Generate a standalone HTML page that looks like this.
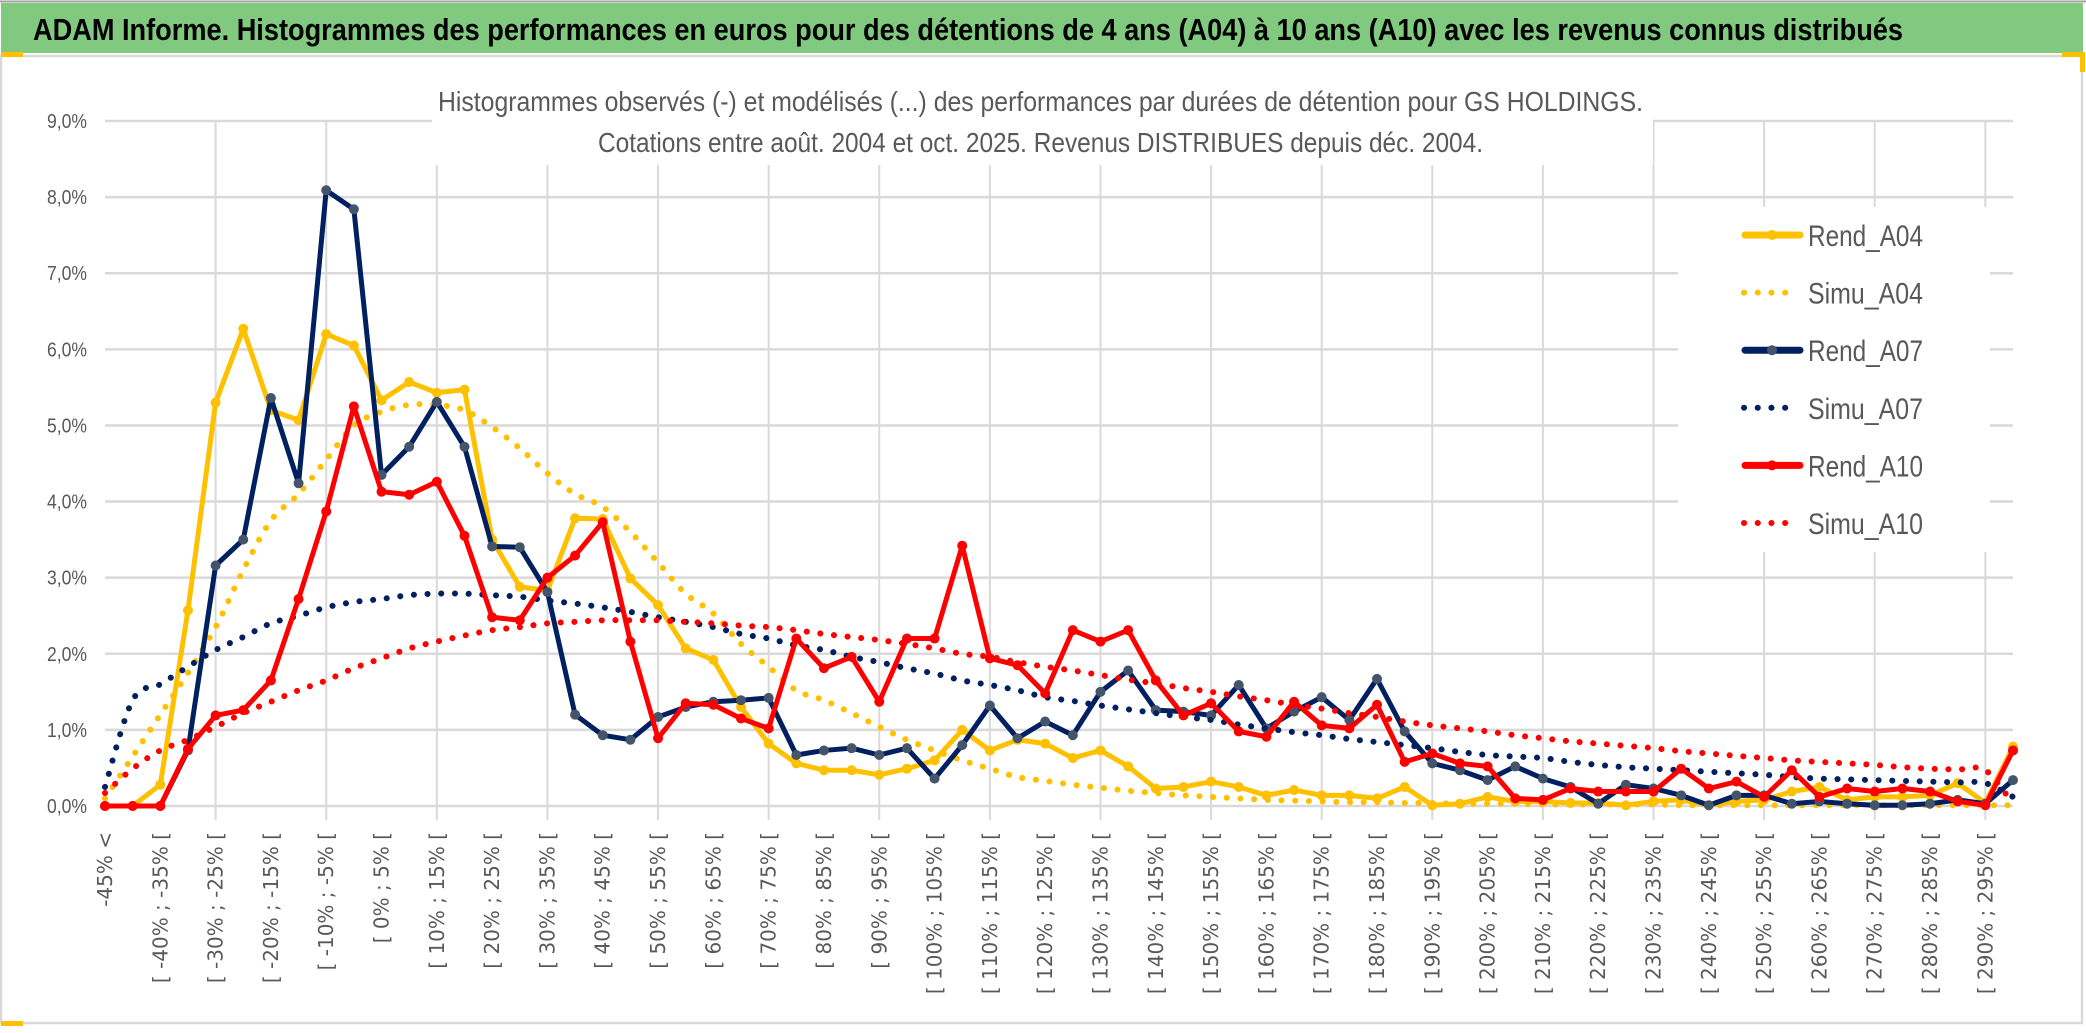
<!DOCTYPE html>
<html><head><meta charset="utf-8"><style>
html,body{margin:0;padding:0;background:#fff;}
svg{display:block;}
</style></head><body>
<svg id="chart" xmlns="http://www.w3.org/2000/svg" width="2086" height="1033" viewBox="0 0 2086 1033">
<rect x="0" y="0" width="2086" height="1033" fill="#fff"/>
<rect x="1" y="3" width="2082" height="50" fill="#80c97f"/>
<line x1="0" y1="1.5" x2="2086" y2="1.5" stroke="#a0a0a0" stroke-width="2"/>
<text x="33" y="40" font-family="Liberation Sans, sans-serif" font-weight="bold" font-size="31" fill="#000" textLength="1870" lengthAdjust="spacingAndGlyphs">ADAM Informe. Histogrammes des performances en euros pour des détentions de 4 ans (A04) à 10 ans (A10) avec les revenus connus distribués</text>
<rect x="1" y="56" width="2081" height="967" fill="none" stroke="#d9d9d9" stroke-width="2.5"/>
<rect x="1" y="52" width="22" height="5" fill="#ffc000"/>
<rect x="2062" y="52" width="22" height="5" fill="#ffc000"/>
<rect x="2080" y="52" width="5" height="20" fill="#ffc000"/>
<rect x="1" y="1021" width="22" height="5" fill="#ffc000"/>
<g id="grid"></g>
<g id="masks"></g>
<g id="xlabels"></g>
<g id="ylabels"></g>
<g id="series"></g>
<g id="titles"></g>
<g id="legend"></g>
</svg>
<script>
const categories = ["-45% <","[ -45% ; -40% [","[ -40% ; -35% [","[ -35% ; -30% [","[ -30% ; -25% [","[ -25% ; -20% [","[ -20% ; -15% [","[ -15% ; -10% [","[ -10% ; -5% [","[ -5% ; 0% [","[ 0% ; 5% [","[ 5% ; 10% [","[ 10% ; 15% [","[ 15% ; 20% [","[ 20% ; 25% [","[ 25% ; 30% [","[ 30% ; 35% [","[ 35% ; 40% [","[ 40% ; 45% [","[ 45% ; 50% [","[ 50% ; 55% [","[ 55% ; 60% [","[ 60% ; 65% [","[ 65% ; 70% [","[ 70% ; 75% [","[ 75% ; 80% [","[ 80% ; 85% [","[ 85% ; 90% [","[ 90% ; 95% [","[ 95% ; 100% [","[ 100% ; 105% [","[ 105% ; 110% [","[ 110% ; 115% [","[ 115% ; 120% [","[ 120% ; 125% [","[ 125% ; 130% [","[ 130% ; 135% [","[ 135% ; 140% [","[ 140% ; 145% [","[ 145% ; 150% [","[ 150% ; 155% [","[ 155% ; 160% [","[ 160% ; 165% [","[ 165% ; 170% [","[ 170% ; 175% [","[ 175% ; 180% [","[ 180% ; 185% [","[ 185% ; 190% [","[ 190% ; 195% [","[ 195% ; 200% [","[ 200% ; 205% [","[ 205% ; 210% [","[ 210% ; 215% [","[ 215% ; 220% [","[ 220% ; 225% [","[ 225% ; 230% [","[ 230% ; 235% [","[ 235% ; 240% [","[ 240% ; 245% [","[ 245% ; 250% [","[ 250% ; 255% [","[ 255% ; 260% [","[ 260% ; 265% [","[ 265% ; 270% [","[ 270% ; 275% [","[ 275% ; 280% [","[ 280% ; 285% [","[ 285% ; 290% [","[ 290% ; 295% [","[ 295% ; 300% ["];
const yTicks = [0,1,2,3,4,5,6,7,8,9];
const yTickLabels = ["0,0%","1,0%","2,0%","3,0%","4,0%","5,0%","6,0%","7,0%","8,0%","9,0%"];
const rendA04 = [0,0,0.28,2.57,5.3,6.27,5.2,5.07,6.2,6.05,5.33,5.57,5.43,5.47,3.5,2.88,2.83,3.78,3.77,2.99,2.64,2.07,1.92,1.3,0.82,0.56,0.47,0.47,0.41,0.49,0.6,1.0,0.73,0.87,0.82,0.63,0.73,0.52,0.23,0.25,0.32,0.25,0.14,0.21,0.14,0.14,0.1,0.25,0.01,0.03,0.12,0.06,0.06,0.04,0.04,0.01,0.06,0.08,0.01,0.06,0.08,0.19,0.25,0.08,0.12,0.12,0.14,0.3,0.04,0.78];
const simuA04 = [0.1,0.65,1.2,1.75,2.35,3.1,3.75,4.1,4.55,5.0,5.18,5.27,5.27,5.2,4.98,4.7,4.37,4.1,3.93,3.6,3.2,2.79,2.53,2.13,1.83,1.52,1.39,1.22,1.04,0.87,0.73,0.6,0.49,0.38,0.33,0.28,0.24,0.2,0.17,0.14,0.12,0.1,0.08,0.07,0.06,0.05,0.05,0.04,0.04,0.03,0.03,0.03,0.02,0.02,0.02,0.02,0.02,0.01,0.01,0.01,0.01,0.01,0.01,0.01,0.01,0.01,0.01,0.01,0.01,0.01];
const rendA07 = [0,0,0,0.73,3.16,3.5,5.36,4.24,8.09,7.84,4.35,4.72,5.31,4.72,3.41,3.4,2.81,1.2,0.93,0.87,1.17,1.3,1.37,1.39,1.42,0.67,0.73,0.76,0.67,0.76,0.36,0.8,1.32,0.89,1.11,0.93,1.5,1.78,1.26,1.24,1.19,1.59,1.02,1.24,1.43,1.13,1.67,0.98,0.56,0.47,0.34,0.52,0.36,0.25,0.03,0.28,0.23,0.14,0.01,0.14,0.14,0.03,0.06,0.03,0.01,0.01,0.03,0.08,0.03,0.34];
const simuA07 = [0.25,1.39,1.6,1.83,2.05,2.22,2.4,2.5,2.61,2.68,2.72,2.77,2.79,2.79,2.77,2.75,2.7,2.66,2.61,2.55,2.48,2.42,2.35,2.26,2.2,2.11,2.05,1.96,1.89,1.81,1.74,1.65,1.59,1.52,1.43,1.38,1.32,1.27,1.22,1.17,1.13,1.07,1.02,0.97,0.93,0.88,0.84,0.8,0.76,0.71,0.67,0.65,0.63,0.58,0.54,0.51,0.49,0.47,0.45,0.43,0.41,0.38,0.36,0.35,0.34,0.33,0.32,0.31,0.3,0.12];
const rendA10 = [0,0,0,0.75,1.19,1.26,1.65,2.72,3.87,5.25,4.13,4.09,4.26,3.55,2.48,2.44,3.0,3.29,3.73,2.16,0.89,1.35,1.33,1.15,1.02,2.2,1.81,1.96,1.37,2.2,2.2,3.42,1.94,1.85,1.48,2.31,2.16,2.31,1.65,1.19,1.35,0.98,0.91,1.37,1.06,1.02,1.33,0.58,0.69,0.56,0.52,0.1,0.08,0.23,0.19,0.19,0.19,0.49,0.23,0.32,0.12,0.47,0.12,0.23,0.19,0.23,0.19,0.06,0.01,0.73];
const simuA10 = [0.17,0.49,0.73,0.87,1.04,1.22,1.37,1.52,1.65,1.81,1.94,2.07,2.16,2.24,2.31,2.35,2.4,2.42,2.44,2.44,2.44,2.42,2.4,2.37,2.35,2.31,2.26,2.22,2.18,2.13,2.07,2.0,1.96,1.89,1.83,1.78,1.72,1.66,1.61,1.55,1.5,1.44,1.39,1.33,1.28,1.22,1.17,1.11,1.06,1.02,0.98,0.93,0.89,0.85,0.82,0.79,0.76,0.72,0.69,0.66,0.63,0.6,0.58,0.56,0.54,0.51,0.49,0.48,0.47,0.03];
const seriesNames = ["Rend_A04","Simu_A04","Rend_A07","Simu_A07","Rend_A10","Simu_A10"];

const NS = "http://www.w3.org/2000/svg";
const X0 = 105, X1 = 2013, Y0 = 806, YTOP = 121;
function xScale(i){ return X0 + i*(X1-X0)/(categories.length-1); }
function yScale(v){ return Y0 - v*(Y0-YTOP)/9; }
function mk(tag, attrs, parent){ const e=document.createElementNS(NS,tag); for(const k in attrs) e.setAttribute(k,attrs[k]); parent.appendChild(e); return e; }

const grid = document.getElementById('grid');
yTicks.forEach(t=>{
  const l = mk('line',{x1:X0,x2:X1,y1:yScale(t),y2:yScale(t),stroke:'#d9d9d9','stroke-width':2.5},grid);
  
  
});
for(let i=4;i<categories.length;i+=4){
  const l = mk('line',{x1:xScale(i),x2:xScale(i),y1:YTOP,y2:Y0+14,stroke:'#d9d9d9','stroke-width':2},grid);
  
  
}
const masks = document.getElementById('masks');
mk('rect',{x:432,y:60,width:1221,height:105,fill:'#fff'},masks);
mk('rect',{x:1678,y:207,width:312,height:345,fill:'#fff'},masks);

const yl = document.getElementById('ylabels');
yTicks.forEach((t,k)=>{
  const e = mk('text',{x:87,y:yScale(t)+7,'text-anchor':'end','font-family':'Liberation Sans, sans-serif','font-size':20,fill:'#595959',textLength:40,lengthAdjust:'spacingAndGlyphs'},yl);
  e.textContent = yTickLabels[k];
  
  
});
const xl = document.getElementById('xlabels');
categories.forEach((c,i)=>{
  if(i%2!==0) return;
  const x = xScale(i)+7, y=832;
  const e = mk('text',{x:x,y:y,transform:`rotate(-90 ${x} ${y})`,'text-anchor':'end','font-family':'DejaVu Sans, sans-serif','font-size':20,fill:'#595959'},xl);
  e.textContent = c;
  
  
});

const ser = document.getElementById('series');
function smoothPath(vals){
  const p = vals.map((v,i)=>[xScale(i),yScale(v)]);
  let d = `M${p[0][0]},${p[0][1]}`;
  for(let i=0;i<p.length-1;i++){
    const p0=p[Math.max(0,i-1)], p1=p[i], p2=p[i+1], p3=p[Math.min(p.length-1,i+2)];
    const c1=[p1[0]+(p2[0]-p0[0])/6, p1[1]+(p2[1]-p0[1])/6];
    const c2=[p2[0]-(p3[0]-p1[0])/6, p2[1]-(p3[1]-p1[1])/6];
    d += ` C${c1[0]},${c1[1]} ${c2[0]},${c2[1]} ${p2[0]},${p2[1]}`;
  }
  return d;
}
function solid(vals,color,mcolor,name){
  const g = mk('g',{},ser);
  
  
  const pl = mk('polyline',{points:vals.map((v,i)=>xScale(i)+','+yScale(v)).join(' '),fill:'none',stroke:color,'stroke-width':5,'stroke-linejoin':'round'},g);
  
  
  vals.forEach((v,i)=>{
    const c = mk('circle',{cx:xScale(i),cy:yScale(v),r:5,fill:mcolor},g);
    
    
  });
}
function dotted(vals,color,name){
  const p = mk('path',{d:smoothPath(vals),fill:'none',stroke:color,'stroke-width':6,'stroke-linecap':'round','stroke-dasharray':'0.1 13.6'},ser);
  
  
}
solid(rendA04,'#ffc000','#ffc000','rend-a04');
dotted(simuA04,'#ffc000','simu-a04');
solid(rendA07,'#002060','#44546a','rend-a07');
dotted(simuA07,'#002060','simu-a07');
solid(rendA10,'#ff0000','#ff0000','rend-a10');
dotted(simuA10,'#ff0000','simu-a10');

const tg = document.getElementById('titles');
const t1 = mk('text',{x:438,y:111,'font-family':'Liberation Sans, sans-serif','font-size':28,fill:'#595959',textLength:1205,lengthAdjust:'spacingAndGlyphs'},tg);
t1.textContent = "Histogrammes observés (-) et modélisés (...) des performances par durées de détention pour GS HOLDINGS.";


const t2 = mk('text',{x:598,y:152,'font-family':'Liberation Sans, sans-serif','font-size':28,fill:'#595959',textLength:885,lengthAdjust:'spacingAndGlyphs'},tg);
t2.textContent = "Cotations entre août. 2004 et oct. 2025. Revenus DISTRIBUES depuis déc. 2004.";



const lg = document.getElementById('legend');
const legColors = ['#ffc000','#ffc000','#002060','#002060','#ff0000','#ff0000'];
const legMarker = ['#ffc000',null,'#44546a',null,'#ff0000',null];
seriesNames.forEach((n,k)=>{
  const y = 235 + k*57.6;
  const g = mk('g',{},lg);
  
  
  if(legMarker[k]){
    mk('line',{x1:1745,x2:1800,y1:y,y2:y,stroke:legColors[k],'stroke-width':7,'stroke-linecap':'round'},g);
    mk('circle',{cx:1772,cy:y,r:5,fill:legMarker[k]},g);
  } else {
    mk('line',{x1:1744,x2:1790,y1:y,y2:y,stroke:legColors[k],'stroke-width':6,'stroke-linecap':'round','stroke-dasharray':'0.1 13.6'},g);
  }
  const tx = mk('text',{x:1808,y:y+11,'font-family':'Liberation Sans, sans-serif','font-size':30,fill:'#595959',textLength:115,lengthAdjust:'spacingAndGlyphs'},g);
  tx.textContent = n;
});
</script>
</body></html>
